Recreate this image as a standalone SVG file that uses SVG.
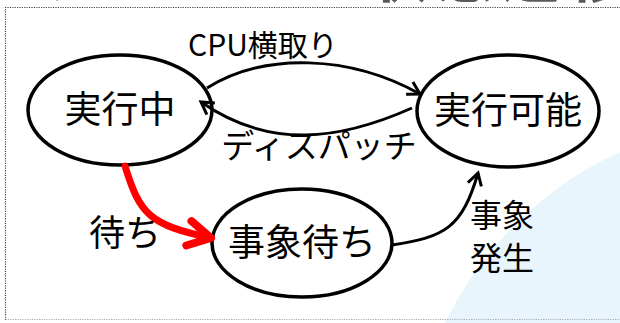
<svg xmlns="http://www.w3.org/2000/svg" width="620" height="323" viewBox="0 0 620 323">
<style>
.node{fill:#fff;stroke:#000;stroke-width:3.5}
.lbl{font-family:"Noto Sans CJK JP","Noto Sans",sans-serif;fill:#000}
.edge{fill:none;stroke:#000;stroke-width:3}
.red{fill:none;stroke:#ff0000;stroke-width:7;stroke-linecap:round}
</style>
<defs>
<marker id="ah" markerUnits="userSpaceOnUse" markerWidth="20" markerHeight="20" refX="14" refY="9" viewBox="0 0 20 18" orient="auto">
<path d="M2,2 L14,9 L2,16" fill="none" stroke="#000" stroke-width="3"/>
</marker>
<marker id="ahr" markerUnits="userSpaceOnUse" markerWidth="34" markerHeight="34" refX="24" refY="15" viewBox="0 0 30 30" orient="auto">
<path d="M4,4 L24,15 L4,26" fill="none" stroke="#ff0000" stroke-width="7" stroke-linecap="round" stroke-linejoin="round"/>
</marker>
</defs>
<rect width="620" height="323" fill="#fff"/>
<path d="M445,323 C480,250 545,185 620,152 L620,323 Z" fill="#e9f5fc"/>
<text x="40" y="-3" font-family="'Noto Sans CJK JP',sans-serif" font-weight="bold" font-size="58" fill="#595959" letter-spacing="8">プロセスの状態遷移</text>
<path d="M5.5,320 L5.5,7.5 L620,7.5" fill="none" stroke="#444" stroke-width="1.2" stroke-dasharray="1.2,1.2"/>
<path d="M5.5,319.5 L620,319.5" fill="none" stroke="#aaa" stroke-width="1" stroke-dasharray="1.2,1.2"/>
<g id="running">
<ellipse class="node" cx="120" cy="110" rx="92" ry="55"/>
<text class="lbl" x="120" y="123" font-size="37" text-anchor="middle">実行中</text>
</g>
<g id="ready">
<ellipse class="node" cx="508" cy="111" rx="91" ry="56"/>
<text class="lbl" x="508" y="124" font-size="37" text-anchor="middle">実行可能</text>
</g>
<g id="waiting">
<ellipse class="node" cx="302" cy="243" rx="90" ry="54"/>
<text class="lbl" x="302" y="256" font-size="37" text-anchor="middle">事象待ち</text>
</g>
<g id="connectors">
<path class="edge" d="M207,88 C265,52 350,55 420,94" marker-end="url(#ah)"/>
<path class="edge" d="M412,108 C340,140 270,150 201,102" marker-end="url(#ah)"/>
<path class="red" d="M125,166 C140,215 150,225 211,238" marker-end="url(#ahr)"/>
<path class="edge" d="M392,245 C445,237 462,228 478,173" marker-end="url(#ah)"/>
<text class="lbl" x="263" y="56" font-size="30" text-anchor="middle">CPU横取り</text>
<text class="lbl" x="319" y="158" font-size="33" text-anchor="middle">ディスパッチ</text>
<text class="lbl" x="125" y="246" font-size="36" text-anchor="middle">待ち</text>
<text class="lbl" x="502" y="227" font-size="32" text-anchor="middle">事象</text>
<text class="lbl" x="502" y="270" font-size="32" text-anchor="middle">発生</text>
</g>
</svg>
